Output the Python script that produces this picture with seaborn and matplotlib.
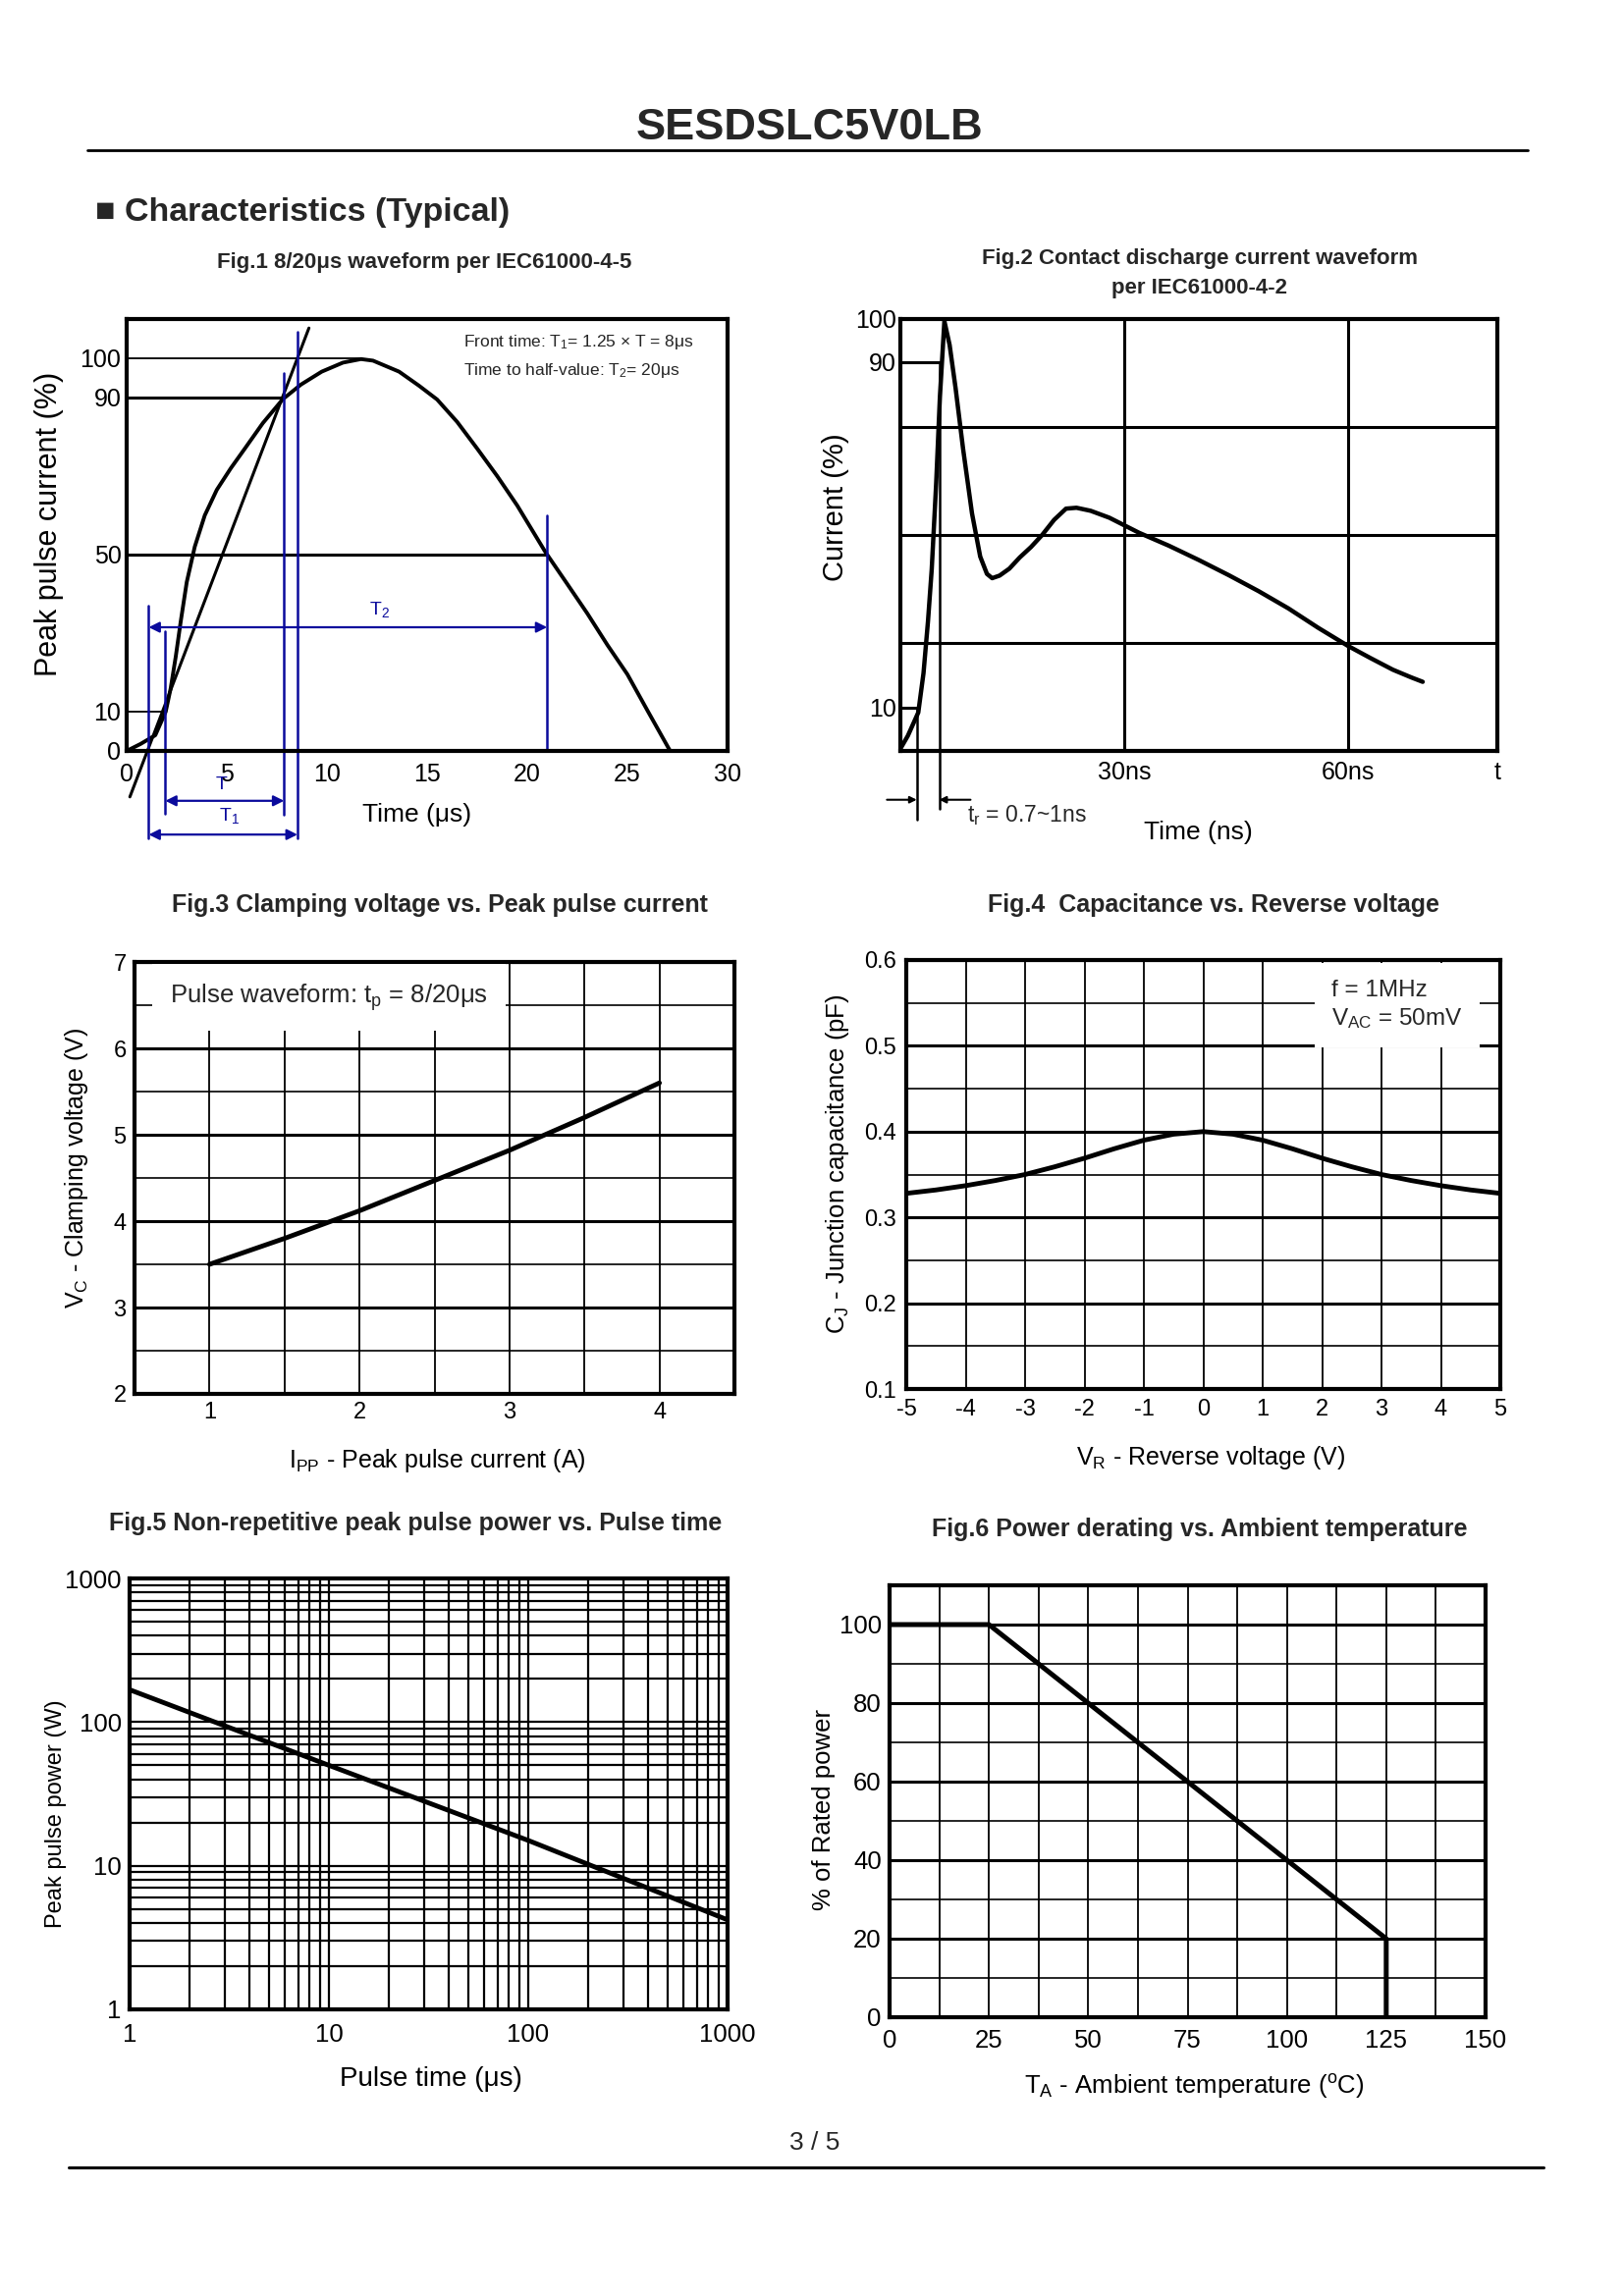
import matplotlib
matplotlib.use("Agg")
import matplotlib.pyplot as plt
import matplotlib.ticker as mticker
import seaborn as sns

# ---- Fig.1  8/20us waveform per IEC61000-4-5
fig1_time = [0, 0.7, 1.43, 1.95, 2.2, 2.45, 2.7, 3.0, 3.4, 3.9, 4.5, 5.2, 5.9, 6.8, 7.8,
             8.7, 9.74, 10.8, 11.7, 12.3, 13.6, 14.6, 15.5, 16.5, 17.5, 18.5, 19.5, 20.9,
             22.0, 23.0, 24.0, 25.0, 26.0, 27.1]
fig1_current = [0, 1.8, 4.0, 10, 16, 24, 33, 43, 52, 60, 66.5, 72, 77, 83.5, 89.6,
                93.3, 96.6, 98.9, 99.8, 99.4, 96.6, 93.0, 89.5, 83.8, 77, 70, 62.5, 50.7,
                42.5, 35, 27, 19.5, 10.3, 0.3]
fig1_front_time = [0.16, 9.1]
fig1_front_current = [-11.7, 107.7]
fig1_xticks = [0, 5, 10, 15, 20, 25, 30]
fig1_yticks = [0, 10, 50, 90, 100]
fig1_levels = [100, 90, 50, 10]
fig1_level_ends = [11.7, 7.86, 20.99, 1.93]
fig1_level_widths = [1.3, 2.2, 2.2, 1.3]
fig1_cursor_t = [1.1, 1.93, 7.86, 8.53, 20.99]
fig1_cursor_top = [37, 30.4, 96.3, 106.8, 60]
fig1_cursor_bottom = [-22.3, -16, -16.3, -22.3, 0]

# ---- Fig.2  contact discharge current waveform per IEC61000-4-2
fig2_time = [0, 1.0, 2.4, 3.1, 3.7, 4.2, 4.8, 5.3, 5.9, 6.6, 7.4, 8.4, 9.6, 10.7, 11.6,
             12.3, 13.3, 14.6, 16.0, 17.5, 19.0, 20.6, 22.2, 23.6, 25.5, 28.0, 32.0, 36.0,
             40.0, 44.0, 48.0, 52.0, 56.0, 60.0, 63.0, 66.0, 68.5, 70.0]
fig2_current = [0.5, 3.5, 8.9, 18, 30, 42, 62, 82, 99.5, 94, 84, 70, 55, 45, 41,
                40, 40.6, 42.2, 44.8, 47.2, 50, 53.5, 56.1, 56.3, 55.6, 54.0, 50.5, 47.5,
                44.2, 40.7, 37, 33, 28.5, 24.3, 21.5, 18.8, 17, 16]
fig2_xticks = [30, 60, 80]
fig2_xticklabels = ["30ns", "60ns", "t"]
fig2_yticks = [10, 90, 100]
fig2_grid_t = [30, 60]
fig2_grid_i = [25, 50, 75]
fig2_levels = [90, 10]
fig2_level_ends = [5.2, 2.2]
fig2_rise_t = [2.2, 5.2]
fig2_rise_top = [10, 90]
fig2_rise_bottom = [-16, -13.5]

# ---- Fig.3  clamping voltage vs peak pulse current
fig3_ipp = [1, 1.5, 2, 2.5, 3, 3.5, 4]
fig3_vc = [3.5, 3.8, 4.12, 4.47, 4.82, 5.2, 5.6]

# ---- Fig.4  capacitance vs reverse voltage
fig4_vr = [-5, -4.5, -4, -3.5, -3, -2.5, -2, -1.5, -1, -0.5, 0,
           0.5, 1, 1.5, 2, 2.5, 3, 3.5, 4, 4.5, 5]
fig4_cj = [0.328, 0.332, 0.337, 0.343, 0.350, 0.359, 0.369, 0.380, 0.390, 0.397, 0.400,
           0.397, 0.390, 0.380, 0.369, 0.359, 0.350, 0.343, 0.337, 0.332, 0.328]

# ---- Fig.5  peak pulse power vs pulse time
fig5_tp = [1, 10, 100, 1000]
fig5_ppk = [168, 50, 15, 4.2]
fig5_ticks = [1, 10, 100, 1000]

# ---- Fig.6  power derating vs ambient temperature
fig6_ta = [0, 25, 125, 125]
fig6_power = [100, 100, 20, 0]

W, H = 1654, 2339
BLUE = "#0A0A9C"

sns.set_theme(style="white")
plt.rcParams["font.family"] = ["Liberation Sans", "DejaVu Sans"]
plt.rcParams["mathtext.fontset"] = "custom"
plt.rcParams["mathtext.rm"] = "Liberation Sans"
plt.rcParams["mathtext.it"] = "Liberation Sans:italic"
plt.rcParams["mathtext.bf"] = "Liberation Sans:bold"
plt.rcParams["axes.unicode_minus"] = False

fig = plt.figure(figsize=(W / 100, H / 100), dpi=100)
fig.patch.set_facecolor("white")


def add_box(box):
    l, t, r, b = box
    ax = fig.add_axes([l / W, 1 - b / H, (r - l) / W, (b - t) / H])
    ax.set_facecolor("white")
    for sp in ax.spines.values():
        sp.set_visible(True)
        sp.set_color("black")
        sp.set_linewidth(3)
    ax.tick_params(length=0, colors="black")
    ax.set_axisbelow(True)
    return ax


def ftext(x, y, s, **kw):
    fig.text(x / W, 1 - y / H, s, **kw)


def set_labels(ax, box, xlab, xpos, xsize, ylab, ypos, ysize):
    l, t, r, b = box
    ax.set_xlabel(xlab, fontsize=xsize, va="center", ha="center", color="black")
    ax.xaxis.set_label_coords((xpos[0] - l) / (r - l), (b - xpos[1]) / (b - t))
    ax.set_ylabel(ylab, fontsize=ysize, va="center", ha="center", color="black")
    ax.yaxis.set_label_coords((ypos[0] - l) / (r - l), (b - ypos[1]) / (b - t))


# page header / footer
ftext(825, 130, "SESDSLC5V0LB", fontsize=32.5, fontweight="bold", ha="center", va="center")
fig.add_artist(plt.Line2D([89 / W, 1556 / W], [1 - 153 / H] * 2, color="black", lw=2))
ftext(97, 216, "■ Characteristics (Typical)", fontsize=24.5, fontweight="bold", ha="left", va="center")
ftext(830, 2183, "3 / 5", fontsize=19, ha="center", va="center")
fig.add_artist(plt.Line2D([70 / W, 1572 / W], [1 - 2208 / H] * 2, color="black", lw=2.2))

# ================= Fig.1 =================
box1 = (129, 325, 741, 765)
ax1 = add_box(box1)
ftext(432, 267, "Fig.1 8/20μs waveform per IEC61000-4-5", fontsize=16, fontweight="bold",
      ha="center", va="center")
for lev, end, lw in zip(fig1_levels, fig1_level_ends, fig1_level_widths):
    ax1.plot([0, end], [lev, lev], color="black", lw=lw)
sns.lineplot(x=fig1_time, y=fig1_current, ax=ax1, color="black", lw=2.8, sort=False,
             estimator=None)
ax1.plot(fig1_front_time, fig1_front_current, color="black", lw=2.2, clip_on=False)
for t, top, bot in zip(fig1_cursor_t, fig1_cursor_top, fig1_cursor_bottom):
    ax1.plot([t, t], [bot, top], color=BLUE, lw=1.8, clip_on=False)
arrow = dict(arrowstyle="<|-|>", color=BLUE, lw=1.6, mutation_scale=16, shrinkA=0, shrinkB=0)
ax1.annotate("", xy=(fig1_cursor_t[0], 31.5), xytext=(fig1_cursor_t[4], 31.5),
             arrowprops=arrow, annotation_clip=False)
ax1.annotate("", xy=(fig1_cursor_t[1], -12.7), xytext=(fig1_cursor_t[2], -12.7),
             arrowprops=arrow, annotation_clip=False)
ax1.annotate("", xy=(fig1_cursor_t[0], -21.3), xytext=(fig1_cursor_t[3], -21.3),
             arrowprops=arrow, annotation_clip=False)
ax1.text(12.6, 36, "T$_2$", color=BLUE, fontsize=14, ha="center", va="center")
ax1.text(5.1, -16.6, "T$_1$", color=BLUE, fontsize=14, ha="center", va="center", clip_on=False)
ax1.text(4.75, -8.6, "T", color=BLUE, fontsize=14, ha="center", va="center", clip_on=False)
ax1.text(16.8, 104.2, "Front time: T$_1$= 1.25 × T = 8μs", fontsize=12.5, ha="left", va="center")
ax1.text(16.8, 96.8, "Time to half-value: T$_2$= 20μs", fontsize=12.5, ha="left", va="center")
ax1.set_xlim(0, 30)
ax1.set_ylim(0, 110)
ax1.set_xticks(fig1_xticks)
ax1.set_yticks(fig1_yticks)
ax1.set_xticks([20], minor=True)
ax1.tick_params(axis="x", which="minor", direction="in", length=6, width=1.2, color="black")
ax1.tick_params(axis="both", which="major", labelsize=18, pad=4)
ax1.tick_params(axis="x", which="major", pad=9)
set_labels(ax1, box1, "Time (μs)", (425, 830), 19, "Peak pulse current (%)", (50, 534), 22)

# ================= Fig.2 =================
box2 = (917, 325, 1525, 765)
ax2 = add_box(box2)
ftext(1222, 263, "Fig.2 Contact discharge current waveform", fontsize=16, fontweight="bold",
      ha="center", va="center")
ftext(1222, 293, "per IEC61000-4-2", fontsize=16, fontweight="bold", ha="center", va="center")
for t in fig2_grid_t:
    ax2.axvline(t, color="black", lw=2.2, zorder=1)
for i in fig2_grid_i:
    ax2.axhline(i, color="black", lw=2.2, zorder=1)
for lev, end in zip(fig2_levels, fig2_level_ends):
    ax2.plot([0, end], [lev, lev], color="black", lw=2.2)
for t, top, bot in zip(fig2_rise_t, fig2_rise_top, fig2_rise_bottom):
    ax2.plot([t, t], [bot, top], color="black", lw=1.8, clip_on=False)
sns.lineplot(x=fig2_time, y=fig2_current, ax=ax2, color="black", lw=3.2, sort=False,
             estimator=None)
small = dict(arrowstyle="-|>", color="black", lw=1.5, mutation_scale=10, shrinkA=0, shrinkB=0)
ax2.annotate("", xy=(fig2_rise_t[0], -11.3), xytext=(-1.8, -11.3), arrowprops=small,
             annotation_clip=False)
ax2.annotate("", xy=(fig2_rise_t[1], -11.3), xytext=(9.4, -11.3), arrowprops=small,
             annotation_clip=False)
ax2.text(8.9, -15.0, "t$_\\mathregular{r}$ = 0.7~1ns", fontsize=16.5, ha="left", va="center",
         clip_on=False)
ax2.set_xlim(0, 80)
ax2.set_ylim(0, 100)
ax2.set_xticks(fig2_xticks, labels=fig2_xticklabels)
ax2.set_yticks(fig2_yticks)
ax2.tick_params(axis="both", labelsize=18, pad=3)
ax2.tick_params(axis="x", pad=7)
set_labels(ax2, box2, "Time (ns)", (1220, 848), 19, "Current (%)", (851, 517), 21)

# ================= Fig.3 =================
box3 = (137, 980, 748, 1420)
ax3 = add_box(box3)
ftext(448, 922, "Fig.3 Clamping voltage vs. Peak pulse current", fontsize=18,
      fontweight="bold", ha="center", va="center")
ax3.set_xlim(0.5, 4.5)
ax3.set_ylim(2, 7)
ax3.xaxis.set_major_locator(mticker.MultipleLocator(1))
ax3.xaxis.set_minor_locator(mticker.MultipleLocator(0.5))
ax3.yaxis.set_major_locator(mticker.MultipleLocator(1))
ax3.yaxis.set_minor_locator(mticker.MultipleLocator(0.5))
ax3.grid(True, axis="x", which="both", color="black", lw=1.3)
ax3.grid(True, axis="y", which="major", color="black", lw=2.2)
ax3.grid(True, axis="y", which="minor", color="black", lw=1.2)
ax3.tick_params(which="both", length=0)
sns.lineplot(x=fig3_ipp, y=fig3_vc, ax=ax3, color="black", lw=3.5, zorder=4)
ax3.text(0.735, 6.59, "Pulse waveform: t$_\\mathregular{p}$ = 8/20μs", fontsize=18.5,
         ha="left", va="center", zorder=3,
         bbox=dict(boxstyle="square,pad=0.7", fc="white", ec="none"))
ax3.tick_params(axis="both", labelsize=17, pad=6)
set_labels(ax3, box3, "I$_\\mathregular{PP}$ - Peak pulse current (A)", (445, 1488), 18,
           "V$_\\mathregular{C}$ - Clamping voltage (V)", (78, 1190), 18)

# ================= Fig.4 =================
box4 = (923, 978, 1528, 1415)
ax4 = add_box(box4)
ftext(1236, 922, "Fig.4  Capacitance vs. Reverse voltage", fontsize=18, fontweight="bold",
      ha="center", va="center")
ax4.set_xlim(-5, 5)
ax4.set_ylim(0.1, 0.6)
ax4.xaxis.set_major_locator(mticker.MultipleLocator(1))
ax4.yaxis.set_major_locator(mticker.MultipleLocator(0.1))
ax4.yaxis.set_minor_locator(mticker.MultipleLocator(0.05))
ax4.yaxis.set_major_formatter(mticker.FormatStrFormatter("%.1f"))
ax4.grid(True, axis="x", which="major", color="black", lw=1.3)
ax4.grid(True, axis="y", which="major", color="black", lw=2.2)
ax4.grid(True, axis="y", which="minor", color="black", lw=1.2)
ax4.tick_params(which="both", length=0)
sns.lineplot(x=fig4_vr, y=fig4_cj, ax=ax4, color="black", lw=3.5, zorder=4)
ax4.text(2.16, 0.5475, "f = 1MHz\nV$_\\mathregular{AC}$ = 50mV", fontsize=17.5, ha="left",
         va="center", linespacing=1.3, zorder=3,
         bbox=dict(boxstyle="square,pad=0.7", fc="white", ec="none"))
ax4.tick_params(axis="both", labelsize=17, pad=7)
set_labels(ax4, box4, "V$_\\mathregular{R}$ - Reverse voltage (V)", (1233, 1485), 18,
           "C$_\\mathregular{J}$ - Junction capacitance (pF)", (853, 1186), 18.5)

# ================= Fig.5 =================
box5 = (132, 1608, 741, 2047)
ax5 = add_box(box5)
ftext(423, 1552, "Fig.5 Non-repetitive peak pulse power vs. Pulse time", fontsize=18,
      fontweight="bold", ha="center", va="center")
sns.lineplot(x=fig5_tp, y=fig5_ppk, ax=ax5, color="black", lw=3.5, zorder=4)
ax5.set_xscale("log")
ax5.set_yscale("log")
ax5.set_xlim(1, 1000)
ax5.set_ylim(1, 1000)
for axis in (ax5.xaxis, ax5.yaxis):
    axis.set_major_locator(mticker.FixedLocator(fig5_ticks))
    axis.set_major_formatter(mticker.FixedFormatter([str(v) for v in fig5_ticks]))
    axis.set_minor_locator(mticker.LogLocator(base=10, subs=range(2, 10)))
    axis.set_minor_formatter(mticker.NullFormatter())
ax5.grid(True, which="both", color="black", lw=1.6)
ax5.tick_params(which="both", length=0)
ax5.tick_params(axis="both", labelsize=18.5, pad=6)
ax5.tick_params(axis="x", pad=10)
set_labels(ax5, box5, "Pulse time (μs)", (439, 2118), 20, "Peak pulse power (W)", (57, 1848), 17)

# ================= Fig.6 =================
box6 = (906, 1615, 1513, 2055)
ax6 = add_box(box6)
ftext(1222, 1558, "Fig.6 Power derating vs. Ambient temperature", fontsize=18,
      fontweight="bold", ha="center", va="center")
ax6.set_xlim(0, 150)
ax6.set_ylim(0, 110)
ax6.xaxis.set_major_locator(mticker.MultipleLocator(25))
ax6.xaxis.set_minor_locator(mticker.MultipleLocator(12.5))
ax6.set_yticks([0, 20, 40, 60, 80, 100])
ax6.yaxis.set_minor_locator(mticker.MultipleLocator(10))
ax6.grid(True, axis="x", which="both", color="black", lw=1.3)
ax6.grid(True, axis="y", which="major", color="black", lw=2.2)
ax6.grid(True, axis="y", which="minor", color="black", lw=1.2)
ax6.tick_params(which="both", length=0)
sns.lineplot(x=fig6_ta, y=fig6_power, ax=ax6, color="black", lw=3.6, sort=False,
             estimator=None, zorder=4)
ax6.tick_params(axis="both", labelsize=18.5, pad=6)
ax6.tick_params(axis="x", pad=9)
set_labels(ax6, box6, "T$_\\mathregular{A}$ - Ambient temperature ($^\\mathregular{o}$C)",
           (1216, 2125), 18.5, "% of Rated power", (839, 1843), 18.5)

fig.savefig("out.png", dpi=100, facecolor="white")
